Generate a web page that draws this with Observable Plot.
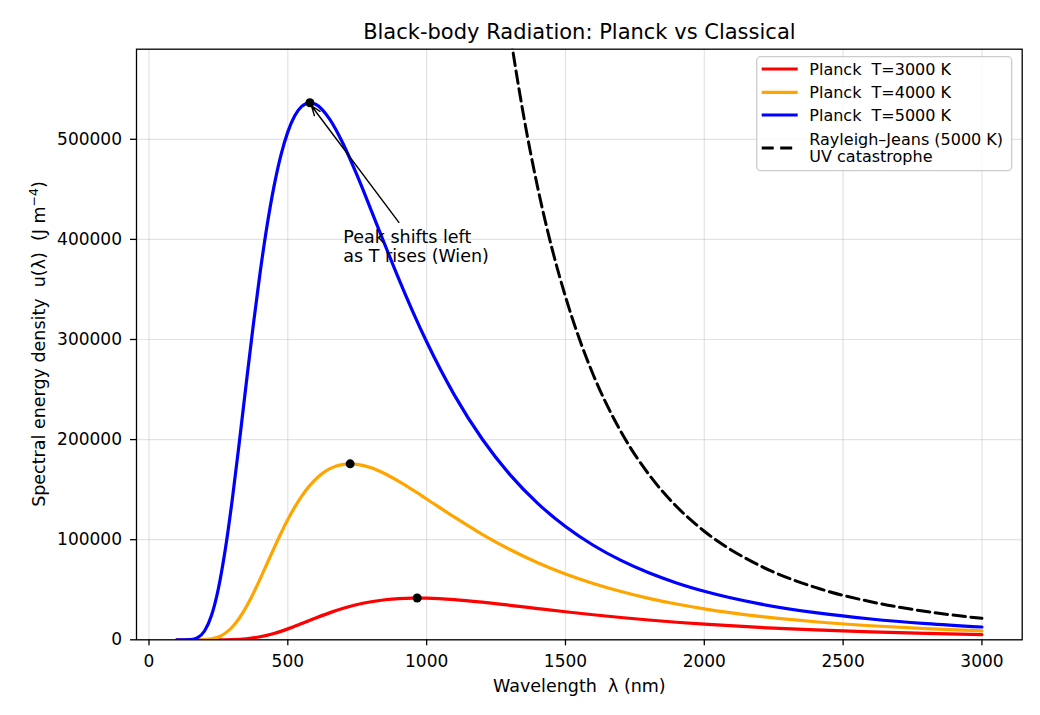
<!DOCTYPE html>
<html><head><meta charset="utf-8">
<script src="https://cdn.jsdelivr.net/npm/d3@7"></script>
<script src="https://cdn.jsdelivr.net/npm/@observablehq/plot@0.6"></script>
<style>body{margin:0;background:#fff;} svg{display:block;}</style>
</head><body><div id="chart"></div>
<script>
// ---- data ----
const wl3000 = [100,150,200,250,300,350,400,450,500,550,600,650,700,750,800,850,900,950,966,1000,1100,1200,1300,1400,1500,1600,1700,1800,1900,2000,2200,2400,2600,2800,3000];
const u3000  = [0,0,0.6,24,234,1064,3026,6363,10908,16201,21690,26890,31458,35203,38051,40023,41202,41686,41715,41598,40126,37562,34464,31209,28015,25013,22259,19777,17562,15600,12347,9833,7890,6383,5206];

const wl4000 = [100,150,200,250,300,325,350,375,400,425,450,475,500,525,550,575,600,625,650,675,700,724.5,750,800,850,900,950,1000,1100,1200,1300,1400,1500,1600,1700,1800,1900,2000,2200,2400,2600,2800,3000];
const u4000  = [0,2.5,241,2884,12751,21492,32711,45968,60631,75999,91402,106249,120084,132567,143500,152766,160344,166278,170669,173624,175282,175788,175296,171809,165868,158286,149713,140680,122476,105405,90185,76995,65739,56214,48189,41435,35748,30952,23460,18038,14060,11100,8868];

const wl5000 = [100,150,175,200,225,250,275,300,325,350,375,400,425,450,475,500,525,550,580,600,650,700,750,800,850,900,950,1000,1100,1200,1300,1400,1500,1600,1700,1800,1900,2000,2200,2400,2600,2800,3000];
const u5000  = [0.2,306,2197,8801,24160,51253,90617,140284,196637,255539,313164,366477,413351,452706,484029,507433,523499,532846,536462,534952,520388,495092,463669,429322,394396,360278,327889,297692,244460,200622,165027,136309,113158,94459,79300,66952,56840,48518,35896,27064,20755,16164,12765];

const wlRJ = [1250,1300,1350,1400,1450,1500,1550,1600,1700,1800,1900,2000,2200,2400,2600,2800,3000];
const uRJ  = [710820,607612,522473,451739,392580,342795,300658,264801,207780,165314,133164,108463,74081,52306,37976,28234,21425];

const peakWl = [965.9, 724.5, 579.6];
const peakU  = [41715, 175788, 536463];

const xTicks = [0,500,1000,1500,2000,2500,3000];
const yTicks = [0,100000,200000,300000,400000,500000];

const titleText = "Black-body Radiation: Planck vs Classical";
const xLabel = "Wavelength  λ (nm)";
const yLabelMain = "Spectral energy density  u(λ)  (J m";
const yLabelSup = "−4";
const annotText = "Peak shifts left\nas T rises (Wien)";
const annotFrom = [900, 417000];
const annotTo = [585, 533500];
const annotTextPos = [700, 377000];

const legendLabels = ["Planck  T=3000 K","Planck  T=4000 K","Planck  T=5000 K","Rayleigh–Jeans (5000 K)\nUV catastrophe"];
const seriesColors = ["#ff0000","#ffa500","#0000ff","#000000"];

// ---- build ----
const toRows = (wl, u) => wl.map((w, i) => ({x: w, y: u[i]}));
const peaks = peakWl.map((w, i) => ({x: w, y: peakU[i]}));
const FONT = "DejaVu Sans";

const chart = Plot.plot({
  width: 1040, height: 715,
  marginLeft: 136, marginRight: 18.3, marginTop: 48.7, marginBottom: 75.7,
  style: {fontFamily: FONT, fontSize: "17px", background: "white", color: "black"},
  x: {domain: [-45, 3145]},
  y: {domain: [0, 590000]},
  marks: [
    Plot.gridX(xTicks, {stroke: "#b0b0b0", strokeOpacity: 0.35, strokeWidth: 1.2}),
    Plot.gridY(yTicks, {stroke: "#b0b0b0", strokeOpacity: 0.35, strokeWidth: 1.2}),
    Plot.line(toRows(wl3000, u3000), {x: "x", y: "y", stroke: seriesColors[0], strokeWidth: 3.2, curve: "monotone-x", clip: true}),
    Plot.line(toRows(wl4000, u4000), {x: "x", y: "y", stroke: seriesColors[1], strokeWidth: 3.2, curve: "monotone-x", clip: true}),
    Plot.line(toRows(wl5000, u5000), {x: "x", y: "y", stroke: seriesColors[2], strokeWidth: 3.2, curve: "monotone-x", clip: true}),
    Plot.line(toRows(wlRJ, uRJ), {x: "x", y: "y", stroke: seriesColors[3], strokeWidth: 3, strokeDasharray: "12.5,5.5", curve: "monotone-x", clip: true}),
    Plot.dot(peaks, {x: "x", y: "y", r: 4.5, fill: "black"}),
    Plot.arrow([{x1: annotFrom[0], y1: annotFrom[1], x2: annotTo[0], y2: annotTo[1]}],
      {x1: "x1", y1: "y1", x2: "x2", y2: "y2", stroke: "black", strokeWidth: 1.4, headLength: 11, headAngle: 40}),
    Plot.text([{x: annotTextPos[0], y: annotTextPos[1], t: annotText}],
      {x: "x", y: "y", text: "t", textAnchor: "start", lineAnchor: "bottom", lineHeight: 1.1, fontSize: 17.5, fill: "black"}),
    Plot.frame({stroke: "black", strokeWidth: 1.3}),
    Plot.axisX({ticks: xTicks, tickSize: 6, tickPadding: 9, tickFormat: d3.format("d"), label: null, fontSize: 17, strokeWidth: 1.3}),
    Plot.axisY({ticks: yTicks, tickSize: 6, tickPadding: 8.5, tickFormat: d3.format("d"), label: null, fontSize: 17, strokeWidth: 1.3}),
    Plot.text([titleText], {text: d => d, frameAnchor: "top", dy: -10.5, lineAnchor: "bottom", fontSize: 21, fill: "black"}),
    Plot.text([xLabel], {text: d => d, frameAnchor: "bottom", dy: 52, lineAnchor: "bottom", fontSize: 17.5, fill: "black"})
  ]
});
document.getElementById("chart").appendChild(chart);

const svg = d3.select(chart);

// ---- y label with superscript ----
const yl = svg.append("text")
  .attr("transform", `translate(45,${(48.7 + 639.3) / 2}) rotate(-90)`)
  .attr("text-anchor", "middle").attr("font-family", FONT).attr("font-size", 17.5).attr("fill", "black");
yl.append("tspan").text(yLabelMain);
yl.append("tspan").attr("font-size", 12.5).attr("dy", -7).text(yLabelSup);
yl.append("tspan").attr("dy", 7).text(")");

// ---- legend ----
const lg = svg.append("g").attr("font-family", FONT).attr("font-size", 16).attr("text-anchor", "start");
lg.append("rect").attr("x", 756.7).attr("y", 56.7).attr("width", 255).attr("height", 114).attr("rx", 4)
  .attr("fill", "white").attr("fill-opacity", 0.8).attr("stroke", "#cccccc").attr("stroke-width", 1.3);
const rowY = [69, 92.3, 115, 148];
legendLabels.forEach((lab, i) => {
  const yy = rowY[i];
  const ln = lg.append("line").attr("x1", 761.7).attr("x2", 797.7).attr("y1", yy).attr("y2", yy)
    .attr("stroke", seriesColors[i]).attr("stroke-width", i === 3 ? 3 : 3.2);
  if (i === 3) ln.attr("stroke-dasharray", "12,6.5");
  const lines = lab.split("\n");
  const lh = 17.4;
  lines.forEach((t, j) => {
    lg.append("text").attr("x", 809.3).attr("y", yy + (j - (lines.length - 1) / 2) * lh)
      .attr("dy", "0.36em").attr("text-anchor", "start").attr("fill", "black").text(t);
  });
});
</script></body></html>
